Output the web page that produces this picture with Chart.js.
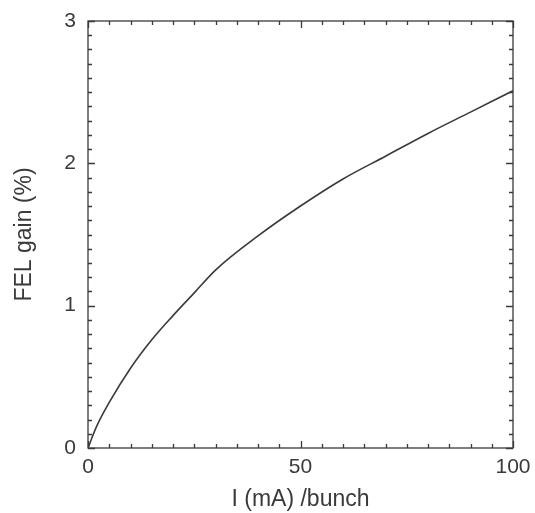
<!DOCTYPE html>
<html>
<head>
<meta charset="utf-8">
<script src="https://cdn.jsdelivr.net/npm/chart.js@4/dist/chart.umd.min.js"></script>
<style>
  html, body { margin: 0; padding: 0; background: #fff; }
  #wrap { width: 535px; height: 513px; }
</style>
</head>
<body>
<div id="wrap"><canvas id="gainChart" width="535" height="513"></canvas></div>
<script>
// beam current per bunch (mA) and FEL gain (%)
var current = [0, 2, 5, 10, 15, 20, 25, 30, 40, 50, 60, 70, 80, 90, 100];
var gain = [0, 0.15, 0.32, 0.56, 0.76, 0.93, 1.09, 1.25, 1.49, 1.70, 1.89, 2.05, 2.21, 2.36, 2.51];

var xLabels = [0, 50, 100];
var yLabels = [0, 1, 2, 3];

var ink = '#3a3a3a';

// inward ticks on all four sides, like the printed figure
var frameTicks = {
    id: 'frameTicks',
    afterDraw: function (chart) {
        var c = chart.ctx, a = chart.chartArea;
        var xs = chart.scales.x, ys = chart.scales.y;
        c.save();
        c.strokeStyle = ink;
        c.lineWidth = 1.3;
        c.strokeRect(a.left, a.top, a.right - a.left, a.bottom - a.top);
        c.beginPath();
        for (var v = 0; v <= 100; v += 5) {
            var px = Math.round(xs.getPixelForValue(v)) + 0.5;
            var len = xLabels.indexOf(v) >= 0 ? 7 : 4;
            c.moveTo(px, a.bottom); c.lineTo(px, a.bottom - len);
            c.moveTo(px, a.top); c.lineTo(px, a.top + len);
        }
        for (var i = 0; i <= 30; i++) {
            var py = Math.round(ys.getPixelForValue(i / 10)) + 0.5;
            var l = (i % 10 === 0) ? 7 : 4;
            c.moveTo(a.left, py); c.lineTo(a.left + l, py);
            c.moveTo(a.right, py); c.lineTo(a.right - l, py);
        }
        c.stroke();
        c.restore();
    }
};

var ctx = document.getElementById('gainChart').getContext('2d');
var chart = new Chart(ctx, {
    type: 'line',
    data: {
        datasets: [{
            label: 'FEL gain',
            data: current.map(function (x, i) { return { x: x, y: gain[i] }; }),
            borderColor: ink,
            borderWidth: 1.6,
            pointRadius: 0,
            fill: false,
            cubicInterpolationMode: 'monotone'
        }]
    },
    options: {
        responsive: false,
        animation: false,
        layout: { padding: { top: 21, right: 22, left: 0, bottom: 0 } },
        plugins: { legend: { display: false }, tooltip: { enabled: false } },
        scales: {
            x: {
                type: 'linear',
                min: 0, max: 100,
                afterFit: function (axis) {
                    axis.height = 65;
                    axis.paddingLeft = 0;
                    axis.paddingRight = 0;
                },
                grid: { display: false, drawTicks: false },
                border: { display: false },
                ticks: {
                    stepSize: 50,
                    padding: 7,
                    color: ink,
                    font: { family: 'Liberation Sans', size: 21 },
                    maxRotation: 0
                },
                title: {
                    display: true,
                    text: 'I (mA) /bunch',
                    color: ink,
                    font: { family: 'Liberation Sans', size: 23 },
                    padding: { top: 0, bottom: 0 }
                }
            },
            y: {
                type: 'linear',
                min: 0, max: 3,
                afterFit: function (axis) {
                    axis.width = 88;
                    axis.paddingTop = 0;
                    axis.paddingBottom = 0;
                },
                grid: { display: false, drawTicks: false },
                border: { display: false },
                ticks: {
                    stepSize: 1,
                    padding: 12,
                    color: ink,
                    font: { family: 'Liberation Sans', size: 21 },
                    callback: function (v) { return yLabels.indexOf(v) >= 0 ? v : ''; }
                },
                title: {
                    display: true,
                    text: 'FEL gain (%)',
                    color: ink,
                    font: { family: 'Liberation Sans', size: 23 },
                    padding: { top: 11, bottom: 0 }
                }
            }
        }
    },
    plugins: [frameTicks]
});
</script>
</body>
</html>
